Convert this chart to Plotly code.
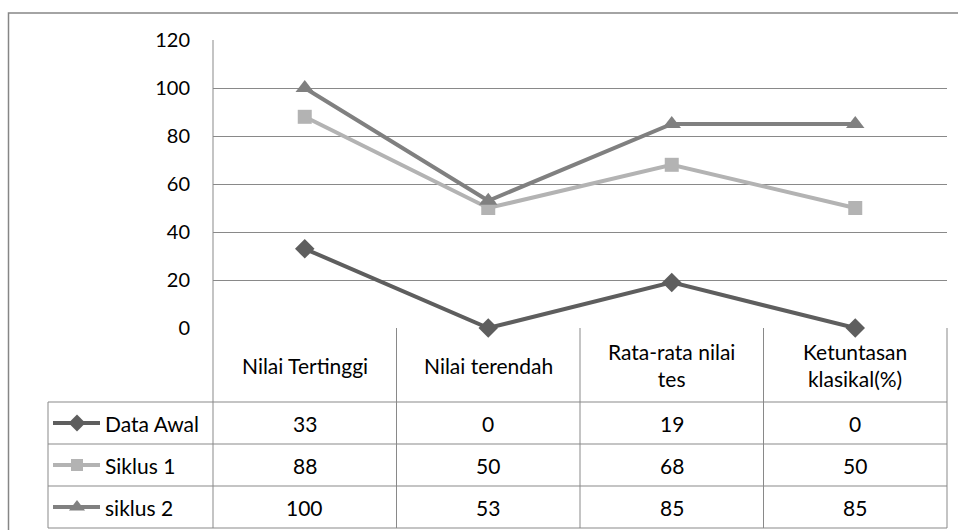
import plotly.graph_objects as go

categories = ["Nilai Tertinggi", "Nilai terendah", "Rata-rata nilai<br>tes", "Ketuntasan<br>klasikal(%)"]
series_names = ["Data Awal", "Siklus 1", "siklus 2"]
data_awal = [33, 0, 19, 0]
siklus_1 = [88, 50, 68, 50]
siklus_2 = [100, 53, 85, 85]
y_ticks = [0, 20, 40, 60, 80, 100, 120]

# body margin is removed by post_script so the figure fills the 958x530 page
OFF = 0
W, H = 958, 530
FONT = "Lato"
FS = 20
TFS = 21
GRID = "#898989"

series_vals = [data_awal, siklus_1, siklus_2]
colors = ["#5e5e5e", "#b3b3b3", "#808080"]
symbols = ["diamond", "square", "triangle-up"]
msizes = [15, 14, 16]

# geometry in page pixels
PL, PR, PT, PB = 213, 947, 40, 328
ROW_Y = [402, 444, 486, 528]
LAB_L = 48

def px(x):
    return (x - OFF) / W

def py(y):
    return 1 - (y - OFF) / H

fig = go.Figure()

for i, (name, vals) in enumerate(zip(series_names, series_vals)):
    fig.add_trace(go.Scatter(
        x=list(range(len(categories))), y=vals, mode="lines+markers",
        name=name, line=dict(color=colors[i], width=4),
        marker=dict(symbol=symbols[i], size=msizes[i], color=colors[i]),
        xaxis="x", yaxis="y", showlegend=False, hoverinfo="skip", cliponaxis=False,
    ))

for i, name in enumerate(series_names):
    cy = (ROW_Y[i] + ROW_Y[i + 1]) / 2
    fig.add_trace(go.Scatter(
        x=[53, 100], y=[cy, cy], mode="lines", line=dict(color=colors[i], width=4),
        xaxis="x2", yaxis="y2", showlegend=False, hoverinfo="skip",
    ))
    fig.add_trace(go.Scatter(
        x=[77], y=[cy], mode="markers",
        marker=dict(symbol=symbols[i], size=msizes[i] - 2, color=colors[i]),
        xaxis="x2", yaxis="y2", showlegend=False, hoverinfo="skip",
    ))

shapes = []
def line(x0, y0, x1, y1, color=GRID, w=1):
    shapes.append(dict(type="line", xref="x2", yref="y2", x0=x0, y0=y0, x1=x1, y1=y1,
                       line=dict(color=color, width=w), layer="below"))

# outer border (continues past right and bottom of picture)
shapes.append(dict(type="rect", xref="x2", yref="y2", x0=8.5, y0=13, x1=980, y1=560,
                   line=dict(color="#868686", width=1.5), fillcolor="rgba(0,0,0,0)",
                   layer="below"))

ncat = len(categories)
colw = (PR - PL) / ncat
line(PL, PT, PL, ROW_Y[-1])
for k in range(1, ncat + 1):
    line(PL + k * colw, PB, PL + k * colw, ROW_Y[-1])
line(LAB_L, ROW_Y[0], LAB_L, ROW_Y[-1])
for yy in ROW_Y:
    line(LAB_L, yy, PR, yy)

annotations = []
tfont = dict(family=FONT, size=TFS, color="#000")
for k, cat in enumerate(categories):
    cx = PL + (k + 0.5) * colw
    annotations.append(dict(xref="x2", yref="y2", x=cx, y=(PB + ROW_Y[0]) / 2, text=cat,
                            showarrow=False, font=tfont,
                            xanchor="center", yanchor="middle", align="center"))
    for i, vals in enumerate(series_vals):
        cy = (ROW_Y[i] + ROW_Y[i + 1]) / 2
        annotations.append(dict(xref="x2", yref="y2", x=cx, y=cy, text=str(vals[k]),
                                showarrow=False, font=tfont,
                                xanchor="center", yanchor="middle"))
for i, name in enumerate(series_names):
    cy = (ROW_Y[i] + ROW_Y[i + 1]) / 2
    annotations.append(dict(xref="x2", yref="y2", x=103, y=cy, text=name, showarrow=False,
                            font=tfont, xanchor="left", yanchor="middle"))

fig.update_layout(
    template="none",
    width=W, height=H, margin=dict(l=0, r=0, t=0, b=0, pad=0, autoexpand=False),
    paper_bgcolor="white", plot_bgcolor="rgba(0,0,0,0)",
    xaxis=dict(domain=[px(PL), px(PR)], range=[-0.5, ncat - 0.5], showticklabels=False,
               showgrid=False, zeroline=False, showline=False, ticks="",
               fixedrange=True, anchor="y", automargin=False),
    yaxis=dict(domain=[py(PB), py(PT)], range=[0, 120], tickvals=y_ticks,
               showgrid=True, gridcolor=GRID, gridwidth=1, zeroline=False, showline=False,
               ticks="", tickfont=dict(family=FONT, size=FS, color="#000"),
               ticklabelstandoff=22, fixedrange=True, anchor="x", automargin=False),
    xaxis2=dict(domain=[0, 1], range=[OFF, OFF + W], visible=False, anchor="y2",
                fixedrange=True, automargin=False),
    yaxis2=dict(domain=[0, 1], range=[OFF + H, OFF], visible=False, anchor="x2",
                fixedrange=True, automargin=False),
    shapes=shapes, annotations=annotations,
)

fig.write_html(
    "out.html",
    config={"displayModeBar": False, "staticPlot": True},
    post_script="document.body.style.margin='0';document.body.style.overflow='hidden';",
)
